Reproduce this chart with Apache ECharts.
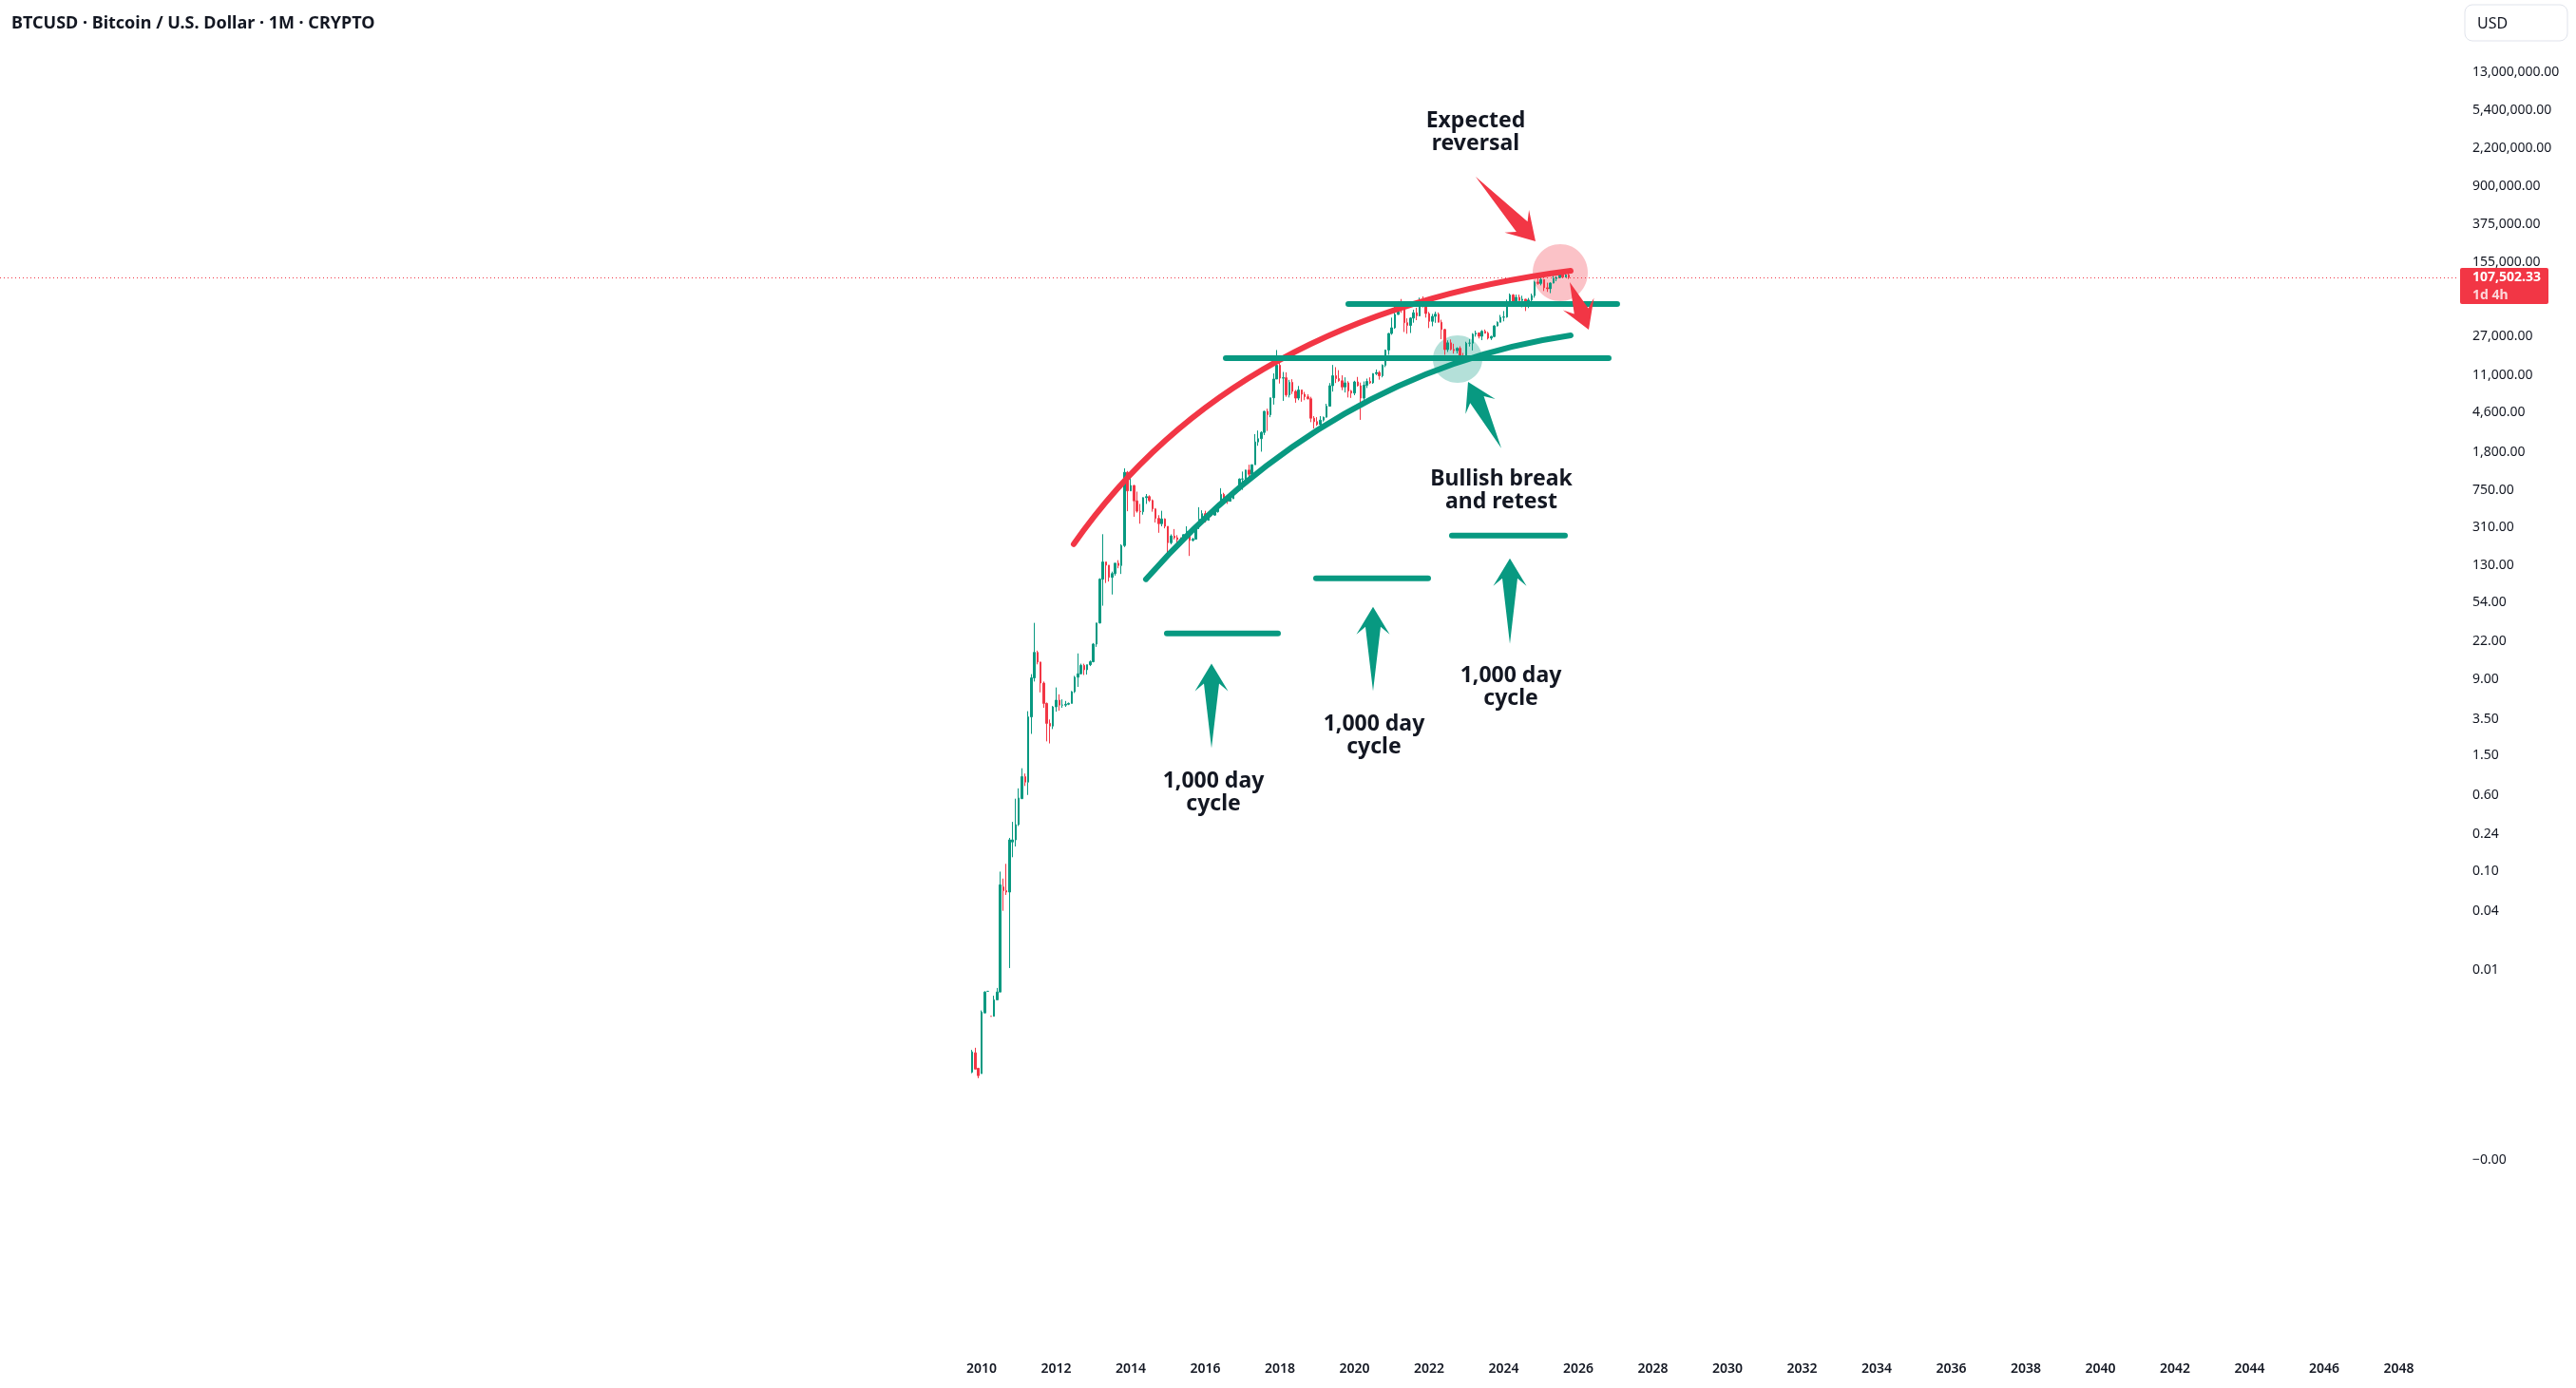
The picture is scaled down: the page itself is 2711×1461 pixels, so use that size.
<!DOCTYPE html>
<html>
<head>
<meta charset="utf-8">
<title>BTCUSD 1M</title>
<script src="https://cdn.jsdelivr.net/npm/echarts@6/dist/echarts.min.js"></script>
<style>
  html, body { margin: 0; padding: 0; background: #fff; }
  #chart { width: 2711px; height: 1461px; }
</style>
</head>
<body>
<div id="chart"></div>
<script>
// monthly bars, first bar = Oct 2009, last bar = Oct 2025
const firstYear = 2009, firstMonth = 10;

const opens = [
  0.00092, 0.00145, 0.00101,
  0.00089, 0.00368, 0.0061, 0.0034, 0.0034, 0.0050, 0.0060, 0.070, 0.064, 0.062, 0.20, 0.21,
  0.30, 0.55, 0.92, 0.81, 3.72, 9.25, 16.8, 13.4, 8.2, 5.1, 3.2, 3.0,
  4.7, 5.5, 4.9, 4.9, 5.0, 5.1, 6.7, 9.4, 10.2, 12.4, 11.2, 12.6,
  13.5, 20.4, 33.4, 93, 139, 129, 97, 106, 135, 128, 204, 1130,
  732, 830, 580, 455, 450, 625, 640, 585, 480, 385, 340, 380,
  320, 218, 255, 245, 235, 230, 263, 285, 230, 237, 315, 377,
  430, 368, 437, 416, 450, 530, 675, 622, 575, 610, 700, 745,
  965, 970, 1190, 1080, 1350, 2300, 2480, 2870, 4700, 4340, 6450, 10000,
  13800, 10200, 10300, 6900, 9250, 7500, 6400, 7750, 7000, 6600, 6300, 4000,
  3700, 3450, 3830, 4100, 5300, 8550, 10800, 10100, 9600, 8300, 9150, 7550,
  7200, 9350, 8550, 6400, 8650, 9450, 9150, 11350, 11650, 10800, 13800, 19700,
  29000, 33100, 45200, 58800, 57700, 37300, 35000, 41500, 47100, 43800, 61300, 57000,
  46200, 38500, 43200, 45500, 37700, 31800, 19900, 23300, 20000, 19400, 20500, 17200,
  16500, 23100, 23150, 28500, 29300, 27200, 30500, 29200, 26000, 27000, 34600, 37700,
  42300, 42600, 61200, 71300, 60700, 67500, 62700, 64600, 58900, 63300, 70300, 96400,
  93400, 102400, 84400, 82500, 94200, 104600, 107100, 115800, 108300, 114000
];
const highs = [
  0.00155, 0.00163, 0.00101,
  0.0039, 0.0061, 0.0061, 0.0034, 0.0055, 0.0066, 0.100, 0.085, 0.12, 0.22, 0.32, 0.55,
  0.70, 1.12, 0.99, 4.25, 10.1, 33.5, 17.5, 13.5, 8.5, 5.2, 3.5, 4.8,
  7.4, 6.3, 5.6, 5.4, 5.2, 6.8, 9.7, 16.4, 12.9, 12.9, 12.6, 13.9,
  20.9, 33.4, 95, 266, 139, 129, 111, 135, 145, 210, 1240, 1165,
  1030, 840, 720, 540, 630, 680, 660, 600, 490, 415, 460, 385,
  320, 265, 300, 260, 247, 265, 320, 285, 245, 335, 500, 465,
  460, 445, 440, 465, 550, 780, 700, 625, 620, 720, 760, 980,
  1150, 1200, 1350, 1350, 2760, 3000, 2950, 4750, 5000, 6450, 11400, 19700,
  17200, 11800, 11700, 9800, 9950, 7750, 8500, 7760, 7400, 7000, 6600, 4200,
  4100, 4200, 4150, 5600, 9100, 13900, 13200, 12300, 10900, 10400, 9500, 7750,
  9600, 10500, 9200, 9450, 10100, 10400, 11450, 12500, 12100, 14100, 19900, 29300,
  42000, 58400, 61800, 64900, 59600, 41300, 42400, 50500, 52900, 67000, 69000, 59100,
  48000, 45800, 48200, 47400, 40000, 32400, 24700, 25200, 22800, 21000, 21500, 18400,
  23900, 25300, 29200, 31000, 29800, 31400, 31800, 30200, 27500, 35200, 38400, 44700,
  49000, 64000, 73800, 72800, 71900, 71900, 70000, 65000, 66500, 73600, 99600, 108300,
  109600, 102700, 95000, 95700, 111900, 110500, 123200, 124500, 117900, 126200
];
const lows = [
  0.00090, 0.00099, 0.00080,
  0.00089, 0.00368, 0.0061, 0.0034, 0.0034, 0.0050, 0.0060, 0.040, 0.058, 0.0105, 0.14, 0.18,
  0.29, 0.55, 0.74, 0.60, 2.5, 8.5, 12.7, 6.6, 4.6, 2.1, 2.0, 2.8,
  4.2, 4.3, 4.6, 4.7, 4.9, 5.1, 6.5, 7.5, 10.0, 9.9, 10.0, 12.2,
  13.3, 19.1, 33.0, 50, 85, 88, 65, 101, 120, 105, 197, 455,
  730, 400, 440, 340, 420, 540, 565, 450, 350, 275, 320, 305,
  160, 210, 235, 215, 225, 220, 255, 160, 225, 235, 300, 350,
  350, 365, 400, 410, 440, 530, 580, 540, 570, 605, 690, 740,
  750, 930, 890, 1060, 1350, 2100, 1830, 2700, 2970, 4100, 5500, 10000,
  9000, 6000, 6600, 6500, 7050, 5750, 6100, 5880, 6100, 6200, 3650, 3150,
  3350, 3350, 3700, 4050, 5300, 7450, 9100, 9400, 7700, 7300, 6500, 6430,
  6850, 8400, 3850, 6150, 8100, 8900, 8950, 10950, 9850, 10400, 13200, 17600,
  28100, 32300, 45000, 47000, 30000, 28800, 29300, 37300, 39600, 43300, 53300, 42000,
  32900, 34300, 37200, 37600, 25400, 17600, 18800, 19500, 18100, 18200, 15500, 16300,
  16500, 21400, 19500, 26900, 25800, 24800, 28900, 25200, 24900, 26500, 34100, 37600,
  38500, 41900, 59300, 59600, 56600, 58400, 53500, 49000, 52500, 58900, 66800, 90500,
  89200, 78200, 76600, 74400, 93400, 98200, 105300, 108700, 107300, 103500
];
const closes = [
  0.00148, 0.00099, 0.00085,
  0.00376, 0.0060, 0.0061, 0.0034, 0.0050, 0.0060, 0.0735, 0.064, 0.062, 0.21, 0.21, 0.30,
  0.56, 0.92, 0.81, 3.72, 9.25, 16.8, 13.4, 8.2, 5.1, 3.2, 3.0, 4.7,
  5.5, 4.9, 4.9, 5.0, 5.1, 6.7, 9.4, 10.2, 12.4, 11.2, 12.6, 13.5,
  20.4, 33.4, 93, 139, 129, 97, 106, 135, 128, 204, 1130, 732,
  830, 580, 455, 450, 625, 640, 585, 480, 385, 340, 380, 320,
  218, 255, 245, 235, 230, 263, 285, 230, 237, 315, 377, 430,
  368, 437, 416, 450, 530, 675, 622, 575, 610, 700, 745, 965,
  970, 1190, 1080, 1350, 2300, 2480, 2870, 4700, 4340, 6450, 10000, 13800,
  10200, 10300, 6900, 9250, 7500, 6400, 7750, 7000, 6600, 6300, 4000, 3700,
  3450, 3830, 4100, 5300, 8550, 10800, 10100, 9600, 8300, 9150, 7550, 7200,
  9350, 8550, 6400, 8650, 9450, 9150, 11350, 11650, 10800, 13800, 19700, 29000,
  33100, 45200, 58800, 57700, 37300, 35000, 41500, 47100, 43800, 61300, 57000, 46200,
  38500, 43200, 45500, 37700, 31800, 19900, 23300, 20000, 19400, 20500, 17200, 16500,
  23100, 23150, 28500, 29300, 27200, 30500, 29200, 26000, 27000, 34600, 37700, 42300,
  42600, 61200, 71300, 60700, 67500, 62700, 64600, 58900, 63300, 70300, 96400, 93400,
  102400, 84400, 82500, 94200, 104600, 107100, 115800, 108300, 114000, 107502.33
];

const lastPrice = 107502.33;
const countdown = '1d 4h';
const titleText = 'BTCUSD \u00b7 Bitcoin / U.S. Dollar \u00b7 1M \u00b7 CRYPTO';

const yTickValues = [13000000, 5400000, 2200000, 900000, 375000, 155000, 27000, 11000, 4600, 1800,
  750, 310, 130, 54, 22, 9, 3.5, 1.5, 0.6, 0.24, 0.1, 0.04, 0.01, 0.000118];
const yTickLabels = ['13,000,000.00', '5,400,000.00', '2,200,000.00', '900,000.00', '375,000.00',
  '155,000.00', '27,000.00', '11,000.00', '4,600.00', '1,800.00', '750.00', '310.00', '130.00',
  '54.00', '22.00', '9.00', '3.50', '1.50', '0.60', '0.24', '0.10', '0.04', '0.01', '\u22120.00'];
const yearTicks = [2010, 2012, 2014, 2016, 2018, 2020, 2022, 2024, 2026, 2028,
  2030, 2032, 2034, 2036, 2038, 2040, 2042, 2044, 2046, 2048];

// drawings, in [year, price] space
const hLines = [ // [from, to, price]
  [2019.834, 2027.044, 57780],
  [2016.548, 2026.815, 16318],
  [2014.968, 2017.949, 26.2],
  [2018.968, 2021.975, 94.95],
  [2022.611, 2025.643, 257.6]
];
const redArc = [[2012.471, 211], [2016.803, 46280], [2025.796, 125560]];
const greenArc = [[2014.408, 92.9], [2019.350, 12230], [2025.796, 27780]];
const greenArrows = [ // [tail, tip]
  [[2016.166, 1.79], [2016.166, 12.9]],
  [[2020.497, 6.78], [2020.497, 48.8]],
  [[2024.166, 20.5], [2024.166, 151]],
  [[2023.936, 1983], [2023.045, 9370]]
];
const redArrows = [
  [[2023.248, 1128700], [2024.854, 249700]],
  [[2025.771, 96200], [2026.280, 31730]]
];
const notes = [
  ['Expected\nreversal', 2023.248, 3201000],
  ['Bullish break\nand retest', 2023.936, 731],
  ['1,000 day\ncycle', 2016.217, 0.631],
  ['1,000 day\ncycle', 2020.522, 2.389],
  ['1,000 day\ncycle', 2024.191, 7.405]
];
const pinkCircle = [2025.516, 120100];
const tealCircle = [2022.764, 15950];

const G = '#089981', R = '#f23645', INK = '#131722';

const candleData = opens.map(function (o, i) {
  const t = firstYear + (firstMonth - 1 + i) / 12;
  return [t, o, closes[i], lows[i], highs[i]];
});

const chart = echarts.init(document.getElementById('chart'));

chart.setOption({
  animation: false,
  backgroundColor: '#ffffff',
  grid: { left: 0, top: 0, width: 2588, height: 1420 },
  xAxis: { type: 'value', min: 1983.682, max: 2049.618, show: false },
  yAxis: { type: 'log', logBase: 10, min: Math.pow(10, -5.846), max: Math.pow(10, 7.8472), show: false },
  series: [{
    type: 'candlestick',
    data: candleData,
    barWidth: 2,
    z: 2,
    itemStyle: { color: G, color0: R, borderColor: G, borderColor0: R, borderWidth: 1 },
    markLine: {
      silent: true,
      symbol: ['none', 'none'],
      label: { show: false },
      lineStyle: { color: R, width: 1, type: [1, 3] },
      data: [{ yAxis: lastPrice }]
    }
  }]
});

const at = function (t, v) { return chart.convertToPixel({ gridIndex: 0 }, [t, v]); };

function arrowPoints(tail, tip) {
  const dx = tip[0] - tail[0], dy = tip[1] - tail[1];
  const len = Math.hypot(dx, dy);
  const ux = dx / len, uy = dy / len, nx = -uy, ny = ux;
  const p = function (u, v) { return [tail[0] + ux * u + nx * v, tail[1] + uy * u + ny * v]; };
  return [p(0, 0), p(len - 21, 8), p(len - 29, 17.5), p(len, 0), p(len - 29, -17.5), p(len - 21, -8)];
}

const els = [];
const plotRight = at(2049.618, 1)[0];

// title
els.push({ type: 'text', z: 20, style: { text: titleText, x: 12, y: 25, fill: INK,
  font: 'bold 18px "Noto Sans"', verticalAlign: 'middle' } });

// currency button
els.push({ type: 'rect', z: 20, shape: { x: 2594, y: 5, width: 108, height: 38, r: 8 },
  style: { fill: '#fff', stroke: '#e0e3eb', lineWidth: 1 } });
els.push({ type: 'text', z: 21, style: { text: 'USD', x: 2607, y: 25, fill: INK,
  font: '16px "Noto Sans"', verticalAlign: 'middle' } });

// price scale labels
yTickValues.forEach(function (v, i) {
  const y = at(2000, v)[1];
  els.push({ type: 'text', z: 20, style: { text: yTickLabels[i], x: plotRight + 14, y: y, fill: INK,
    font: '14px "Noto Sans"', verticalAlign: 'middle' } });
});

// last price tag
const py = at(2000, lastPrice)[1];
els.push({ type: 'rect', z: 22, shape: { x: plotRight + 1, y: py - 10, width: 93, height: 38, r: 2 },
  style: { fill: R } });
els.push({ type: 'text', z: 23, style: { text: '107,502.33', x: plotRight + 14, y: py, fill: '#fff',
  font: 'bold 14px "Noto Sans"', verticalAlign: 'middle' } });
els.push({ type: 'text', z: 23, style: { text: countdown, x: plotRight + 14, y: py + 19, fill: 'rgba(255,255,255,0.8)',
  font: 'bold 14px "Noto Sans"', verticalAlign: 'middle' } });

// time scale labels
yearTicks.forEach(function (yr) {
  const x = at(yr, 1)[0];
  els.push({ type: 'text', z: 20, style: { text: String(yr), x: x, y: 1441, fill: INK,
    font: '600 14px "Noto Sans"', align: 'center', verticalAlign: 'middle' } });
});

// highlight circles (behind candles)
const pc = at(pinkCircle[0], pinkCircle[1]);
els.push({ type: 'ellipse', z: 1, shape: { cx: pc[0], cy: pc[1], rx: 29, ry: 30 },
  style: { fill: 'rgba(242,54,69,0.3)' } });
const tc = at(tealCircle[0], tealCircle[1]);
els.push({ type: 'ellipse', z: 1, shape: { cx: tc[0], cy: tc[1], rx: 26, ry: 25 },
  style: { fill: 'rgba(8,153,129,0.3)' } });

// curves
[[redArc, R], [greenArc, G]].forEach(function (a) {
  const p0 = at(a[0][0][0], a[0][0][1]);
  const c = at(a[0][1][0], a[0][1][1]);
  const p2 = at(a[0][2][0], a[0][2][1]);
  els.push({ type: 'bezierCurve', z: 10,
    shape: { x1: p0[0], y1: p0[1], cpx1: c[0], cpy1: c[1], x2: p2[0], y2: p2[1] },
    style: { stroke: a[1], lineWidth: 6, fill: null, lineCap: 'round' } });
});

// horizontal levels
hLines.forEach(function (h) {
  const a = at(h[0], h[2]), b = at(h[1], h[2]);
  els.push({ type: 'line', z: 10, shape: { x1: a[0], y1: a[1], x2: b[0], y2: b[1] },
    style: { stroke: G, lineWidth: 6, lineCap: 'round' } });
});

// arrows
greenArrows.forEach(function (ar) {
  els.push({ type: 'polygon', z: 11, shape: { points: arrowPoints(at(ar[0][0], ar[0][1]), at(ar[1][0], ar[1][1])) },
    style: { fill: G } });
});
redArrows.forEach(function (ar) {
  els.push({ type: 'polygon', z: 11, shape: { points: arrowPoints(at(ar[0][0], ar[0][1]), at(ar[1][0], ar[1][1])) },
    style: { fill: R } });
});

// text notes
notes.forEach(function (n) {
  const p = at(n[1], n[2]);
  els.push({ type: 'text', z: 12, style: { text: n[0], x: p[0], y: p[1], fill: INK,
    font: 'bold 23px "Noto Sans"', lineHeight: 24, align: 'center', verticalAlign: 'middle' } });
});

chart.setOption({ graphic: { elements: els } });
</script>
</body>
</html>
